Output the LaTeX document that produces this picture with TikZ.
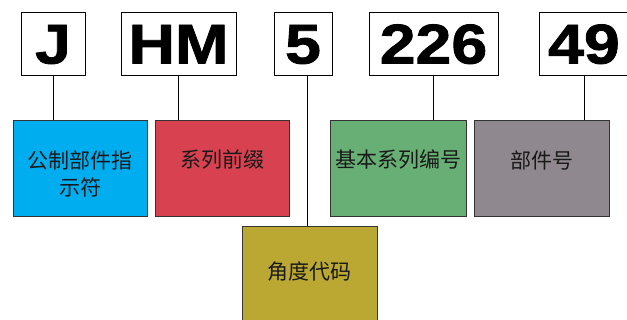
\documentclass[tikz,border=0pt]{standalone}
\usepackage{fontspec}
\newfontfamily\cjk{Noto Sans CJK SC}
\newfontfamily\codefont{Liberation Sans}[BoldFeatures={FakeBold=1.5,FakeStretch=1.15}]
\definecolor{metricblue}{RGB}{0,173,239}
\definecolor{prefixred}{RGB}{216,65,80}
\definecolor{seriesgreen}{RGB}{103,175,116}
\definecolor{numgray}{RGB}{143,136,142}
\definecolor{angleyellow}{RGB}{187,168,50}

\begin{document}
\begin{tikzpicture}[x=1pt,y=-1pt]
\tikzset{code/.style={draw=black,line width=0.9pt,minimum height=63pt,inner sep=0pt,text height=40pt,text depth=0pt,font=\codefont\bfseries\fontsize{56}{60}\selectfont}}
\tikzset{part/.style={draw=black!80,line width=1pt,fill=#1,minimum width=134pt,minimum height=96pt,inner sep=0pt}}
\tikzset{tag/.style={font=\cjk\fontsize{21}{27}\selectfont,align=center,text=black!90}}
\useasboundingbox (0,0) rectangle (627,320);
% code letters
\node[code,minimum width=64pt] (j) at (53,43.5) {J};
\node[code,minimum width=115pt] (hm) at (178.5,43.5) {HM};
\node[code,minimum width=58pt] (five) at (303,43.5) {5};
\node[code,minimum width=129pt] (base) at (433.5,43.5) {226};
\node[code,minimum width=90pt] (num) at (584,43.5) {49};
% meaning boxes
\node[part=metricblue] (metric) at (80,169) {};
\node[part=prefixred] (prefix) at (222,169) {};
\node[part=seriesgreen,minimum width=136pt] (series) at (398,169) {};
\node[part=numgray,minimum width=135pt] (partno) at (541.5,169) {};
\node[part=angleyellow,minimum width=135pt] (angle) at (309.5,275) {};
\node[tag] (metrict) at (80,173.5) {公制部件指\\示符};
\node[tag] (prefixt) at (222,160) {系列前缀};
\node[tag] (seriest) at (398,160) {基本系列编号};
\node[tag] (partnot) at (541.5,160) {部件号};
\node[tag] (anglet) at (309.5,272) {角度代码};
% connectors
\draw[line width=0.8pt] (j.south) -- (j.south |- metric.north);
\draw[line width=0.8pt] (hm.south) -- (hm.south |- prefix.north);
\draw[line width=0.8pt] ([xshift=4pt]five.south) -- ([xshift=4pt]five.south |- angle.north);
\draw[line width=0.8pt] (base.south) -- (base.south |- series.north);
\draw[line width=0.8pt] (num.south) -- (num.south |- partno.north);
\end{tikzpicture}
\end{document}
